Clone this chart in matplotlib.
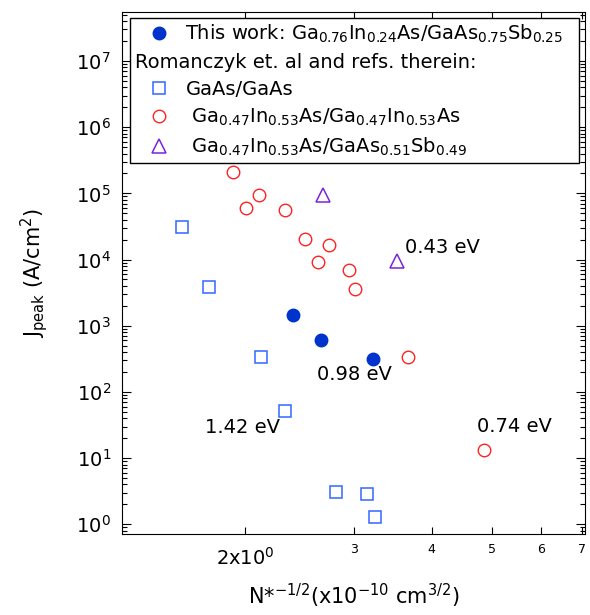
import matplotlib
matplotlib.use("Agg")
import matplotlib.pyplot as plt
import matplotlib.ticker as ticker
from matplotlib.lines import Line2D

plt.rcParams['font.family'] = ['DejaVu Sans']
plt.rcParams['mathtext.fontset'] = 'dejavusans'

# this work: Ga0.76In0.24As/GaAs0.75Sb0.25
this_x = [2.39, 2.65, 3.21]
this_y = [1450, 608, 311]

# GaAs/GaAs
gaas_x = [1.58, 1.75, 2.12, 2.32, 2.80, 3.14, 3.24]
gaas_y = [31300, 3800, 333, 52, 3.08, 2.90, 1.28]

# Ga0.47In0.53As/Ga0.47In0.53As
ingaas_x = [1.91, 2.105, 2.007, 2.32, 2.497, 2.731, 2.624, 2.938, 3.011, 3.667, 4.865]
ingaas_y = [207000, 94300, 61000, 55400, 20600, 16600, 9070, 6940, 3550, 340, 13.2]

# Ga0.47In0.53As/GaAs0.51Sb0.49
sb_x = [2.666, 3.513]
sb_y = [95900, 9560]

# band gap labels
gap_text = ['0.43 eV', '0.74 eV', '0.98 eV', '1.42 eV']
gap_x = [3.62, 4.74, 2.61, 1.72]
gap_y = [12400, 25.1, 151, 24.2]

xtick_vals = [3, 4, 5, 6, 7]
ytick_vals = [1e0, 1e1, 1e2, 1e3, 1e4, 1e5, 1e6, 1e7]

c_this = '#0033cc'
c_gaas = '#3366ff'
c_ingaas = '#ff2222'
c_sb = '#7a22dd'

fig = plt.figure(figsize=(5.9, 6.15), dpi=100)
ax = fig.add_axes([0.2068, 0.1317, 0.7849, 0.8488])

ax.plot(gaas_x, gaas_y, ls='none', marker='s', ms=9, mfc='none', mec=c_gaas, mew=1.1)
ax.plot(ingaas_x, ingaas_y, ls='none', marker='o', ms=9, mfc='none', mec=c_ingaas, mew=1.0)
ax.plot(sb_x, sb_y, ls='none', marker='^', ms=9.5, mfc='none', mec=c_sb, mew=1.1)
ax.plot(this_x, this_y, ls='none', marker='o', ms=9, mfc=c_this, mec=c_this)

for t, x, y in zip(gap_text, gap_x, gap_y):
    ax.text(x, y, t, fontsize=14, ha='left', va='baseline')

ax.set_xscale('log')
ax.set_yscale('log')
ax.set_xlim(1.264, 7.08)
ax.set_ylim(0.714, 5.5e7)

ax.xaxis.set_major_locator(ticker.FixedLocator(xtick_vals))
ax.xaxis.set_major_formatter(ticker.FixedFormatter([str(v) for v in xtick_vals]))
ax.xaxis.set_minor_locator(ticker.FixedLocator([2]))
ax.xaxis.set_minor_formatter(ticker.FixedFormatter([r'2x10$^{0}$']))

ax.yaxis.set_major_locator(ticker.FixedLocator(ytick_vals))
ax.yaxis.set_major_formatter(ticker.FixedFormatter([r'10$^{%d}$' % i for i in range(8)]))
ax.yaxis.set_minor_locator(ticker.LogLocator(base=10, subs=range(2, 10), numticks=20))
ax.yaxis.set_minor_formatter(ticker.NullFormatter())

ax.tick_params(axis='both', which='both', direction='in', top=True, right=True, width=0.8)
ax.tick_params(axis='x', which='major', length=5, labelsize=9, pad=6.5)
ax.tick_params(axis='x', which='minor', length=5, labelsize=14, pad=9)
ax.tick_params(axis='y', which='major', length=6.5, labelsize=14, pad=8)
ax.tick_params(axis='y', which='minor', length=3.5)
for s in ax.spines.values():
    s.set_linewidth(0.8)

ax.set_xlabel(r'N*$^{-1/2}$(x10$^{-10}$ cm$^{3/2}$)', fontsize=15)
ax.set_ylabel(r'J$_{\mathrm{peak}}$ (A/cm$^{2}$)', fontsize=15)
ax.xaxis.set_label_coords(0.5, -0.092)
ax.yaxis.set_label_coords(-0.155, 0.5)

handles = [
    Line2D([], [], ls='none', marker='o', ms=9, mfc=c_this, mec=c_this),
    Line2D([], [], ls='none', marker='none'),
    Line2D([], [], ls='none', marker='s', ms=9, mfc='none', mec=c_gaas, mew=1.1),
    Line2D([], [], ls='none', marker='o', ms=9, mfc='none', mec=c_ingaas, mew=1.0),
    Line2D([], [], ls='none', marker='^', ms=9.5, mfc='none', mec=c_sb, mew=1.1),
]
labels = [
    r'This work: Ga$_{0.76}$In$_{0.24}$As/GaAs$_{0.75}$Sb$_{0.25}$',
    'Romanczyk et. al and refs. therein:',
    'GaAs/GaAs',
    r' Ga$_{0.47}$In$_{0.53}$As/Ga$_{0.47}$In$_{0.53}$As',
    r' Ga$_{0.47}$In$_{0.53}$As/GaAs$_{0.51}$Sb$_{0.49}$',
]
leg = ax.legend(handles, labels, loc='upper left', bbox_to_anchor=(0.0173, 0.9885, 0.970, 0.0),
                mode='expand', borderaxespad=0, fontsize=14, handlelength=2.5,
                handletextpad=0.1, borderpad=0.25, labelspacing=0.4, fancybox=False,
                framealpha=1, edgecolor='black')
leg.get_frame().set_linewidth(1.0)

# text-only row starts at the left edge
row = leg._legend_handle_box.get_children()[0].get_children()[1]
row.get_children()[0].width = 0
row.sep = 0

fig.savefig('out.png', dpi=100)
